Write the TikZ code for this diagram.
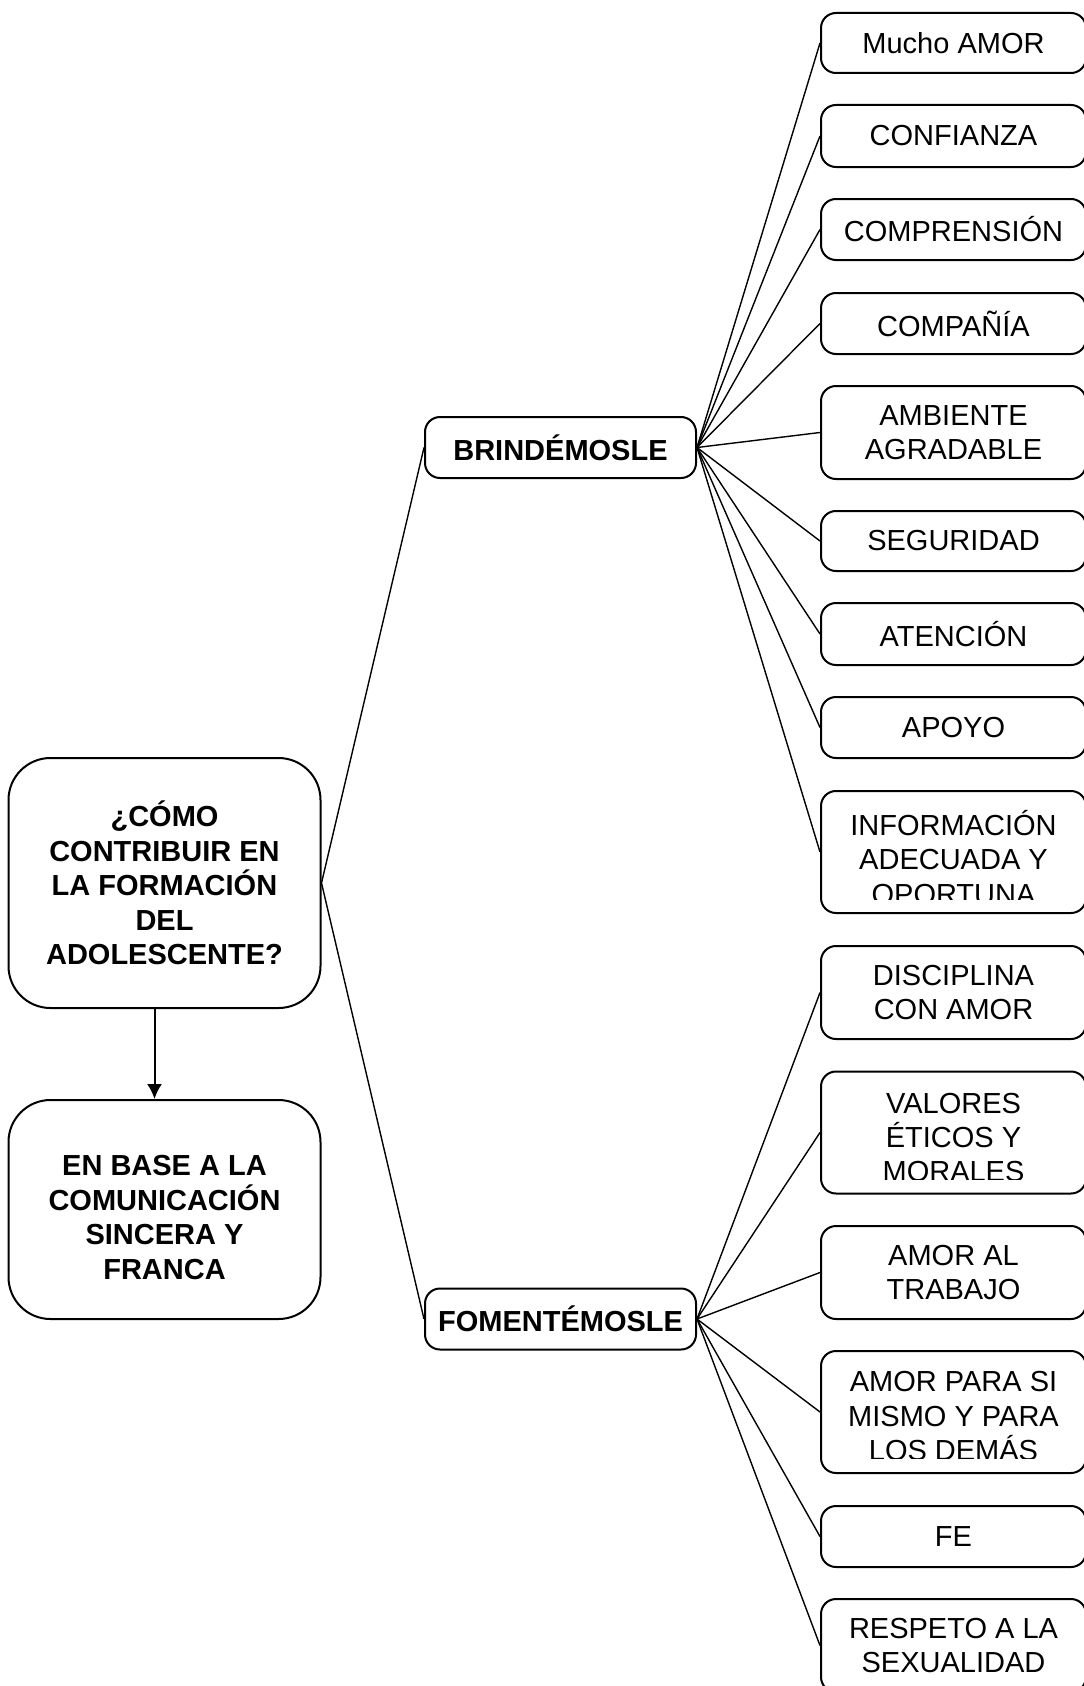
\documentclass[tikz,border=0pt]{standalone}
\usepackage{fontspec}
\setmainfont{Liberation Sans}
\usetikzlibrary{positioning, arrows.meta}

\begin{document}
\begin{tikzpicture}[x=0.5pt, y=-0.5pt,
  every node/.style={font=\fontsize{14.5}{17.2}\selectfont, align=center, inner sep=0pt},
  bold/.style={font=\fontsize{14.5}{17.2}\selectfont\bfseries},
  bigbox/.style={draw, line width=1pt, rounded corners=21pt, minimum width=156pt, bold},
  midbox/.style={draw, line width=1pt, rounded corners=7.5pt, minimum width=135.5pt,
    minimum height=30.5pt, bold},
  leaf/.style={draw, line width=1pt, rounded corners=7.5pt, minimum width=132.5pt},
  link/.style={line width=0.7pt}]
  \useasboundingbox (0,0) rectangle (1083,1686);

  \node[bigbox, minimum height=125pt] (pregunta) at (164.5,883) {¿CÓMO\\CONTRIBUIR EN\\LA FORMACIÓN\\DEL\\ADOLESCENTE?};
  \node[bigbox, minimum height=109.5pt] (base) at (164.5,1209.5) {};
  \node[bold] (basetext) at (164.5,1217.5) {EN BASE A LA\\COMUNICACIÓN\\SINCERA Y\\FRANCA};
  \node[midbox] (brindar) at (560.5,447.5) {BRINDÉMOSLE};
  \node[midbox] (fomentar) at (560.5,1319) {FOMENTÉMOSLE};

  \node[leaf, minimum height=30pt] (amor) at (953.5,43) {Mucho AMOR};
  \node[leaf, minimum height=31pt] (confianza) at (953.5,136) {CONFIANZA};
  \node[leaf, minimum height=30.5pt] (comprension) at (953.5,229.5) {COMPRENSIÓN};
  \node[leaf, minimum height=30.5pt] (compania) at (953.5,323.5) {COMPAÑÍA};
  \node[leaf, minimum height=46.5pt] (ambiente) at (953.5,432.5) {AMBIENTE\\AGRADABLE};
  \node[leaf, minimum height=30pt] (seguridad) at (953.5,541) {SEGURIDAD};
  \node[leaf, minimum height=31pt] (atencion) at (953.5,634) {ATENCIÓN};
  \node[leaf, minimum height=30.5pt] (apoyo) at (953.5,727.5) {APOYO};
  \node[leaf, minimum height=61pt] (informacion) at (953.5,852) {};
  \node[leaf, minimum height=46.5pt] (disciplina) at (953.5,992.5) {DISCIPLINA\\CON AMOR};
  \node[leaf, minimum height=61pt] (valores) at (953.5,1132.5) {};
  \node[leaf, minimum height=46.5pt] (trabajo) at (953.5,1272.5) {AMOR AL\\TRABAJO};
  \node[leaf, minimum height=61pt] (simismo) at (953.5,1412) {};
  \node[leaf, minimum height=30.5pt] (fe) at (953.5,1536.5) {FE};
  \node[leaf, minimum height=46.5pt] (respeto) at (953.5,1645.5) {RESPETO A LA\\SEXUALIDAD};

  % texto cortado por el borde inferior de la caja
  \begin{scope}
    \clip (informacion.north west) rectangle (1083,899);
    \node (informaciontext) at (953.5,857.5) {INFORMACIÓN\\ADECUADA Y\\OPORTUNA};
  \end{scope}
  \begin{scope}
    \clip (valores.north west) rectangle (1083,1179);
    \node (valorestext) at (953.5,1137.5) {VALORES\\ÉTICOS Y\\MORALES};
  \end{scope}
  \begin{scope}
    \clip (simismo.north west) rectangle (1083,1458);
    \node (simismotext) at (953.5,1416) {AMOR PARA SI\\MISMO Y PARA\\LOS DEMÁS};
  \end{scope}

  \draw[link] (pregunta.east) -- (brindar.west);
  \draw[link] (pregunta.east) -- (fomentar.west);
  \draw[line width=1pt, -{Latex[length=7.5pt, width=7.5pt]}] ([xshift=-5pt]pregunta.south) -- ([xshift=-5pt]base.north);
  \foreach \n in {amor, confianza, comprension, compania, ambiente, seguridad, atencion, apoyo, informacion}
    \draw[link] (brindar.east) -- (\n.west);
  \foreach \n in {disciplina, valores, trabajo, simismo, fe, respeto}
    \draw[link] (fomentar.east) -- (\n.west);
\end{tikzpicture}
\end{document}
